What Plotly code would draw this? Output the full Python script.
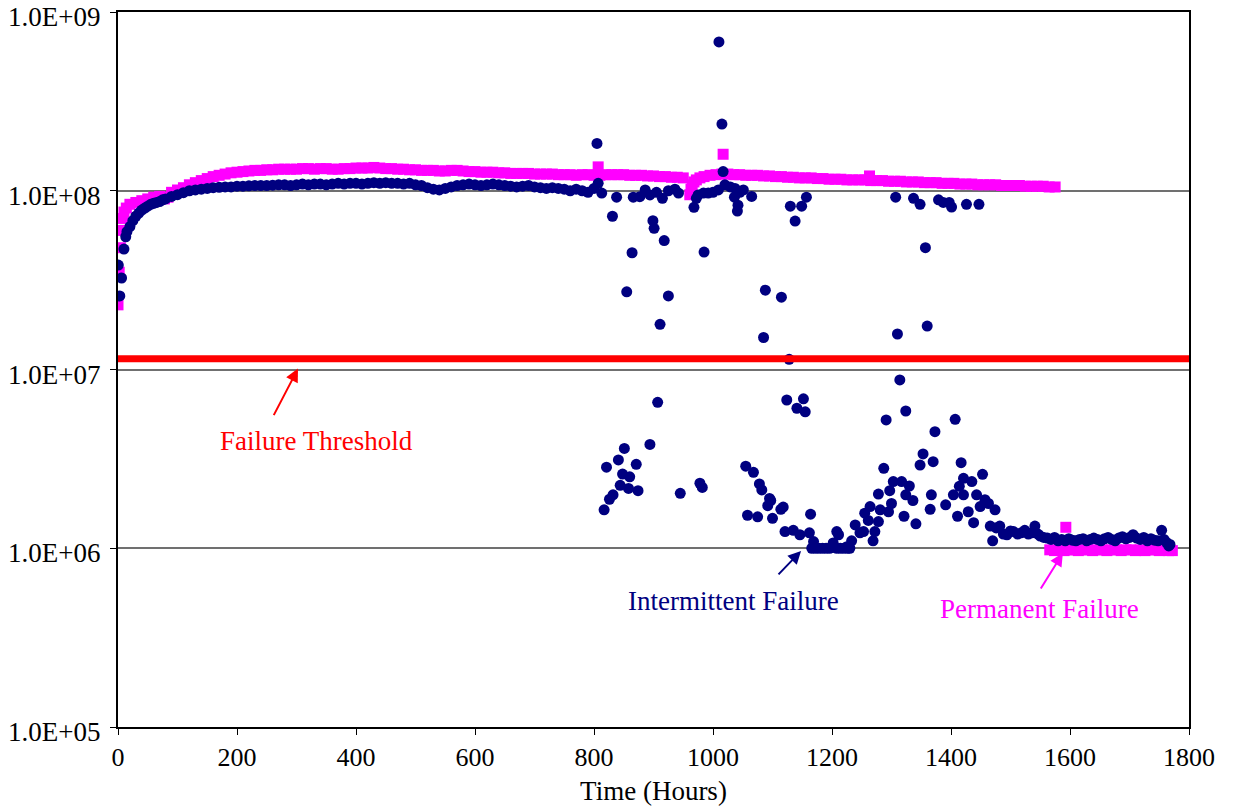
import math
import plotly.graph_objects as go

# ---------------- data ----------------
# Permanent-failure device (magenta squares)
mag_hours_a = [0, 2, 4, 6, 8, 10, 14, 20, 30, 40, 50, 60, 70, 78, 84, 90, 100, 110, 120, 130,
               140, 150, 160, 170, 180, 190, 200, 210, 220, 230, 240, 250, 260, 270, 280, 290,
               300, 310, 320, 330, 340, 350, 360, 370, 380, 390, 400, 410, 420, 430, 440, 450,
               460, 470, 480, 490, 500, 510, 520, 530, 540, 550, 560, 570, 580, 590, 600, 610,
               620, 630, 640, 650, 660, 670, 680, 690, 700, 710, 720, 730, 740, 750, 760, 770,
               780, 790, 800, 810, 820, 830, 840, 850, 860, 870, 880, 890, 900, 910, 920, 930,
               940, 950]
mag_values_a = [2.3e7, 3.5e7, 4.8e7, 6.0e7, 7.0e7, 7.6e7, 8.0e7, 8.4e7, 8.6e7, 8.8e7, 9.0e7, 9.2e7,
                9.3e7, 9.0e7, 9.2e7, 9.8e7, 1.01e8, 1.04e8, 1.08e8, 1.11e8, 1.14e8, 1.17e8, 1.20e8,
                1.22e8, 1.24e8, 1.26e8, 1.27e8, 1.28e8, 1.29e8, 1.30e8, 1.30e8, 1.31e8, 1.31e8,
                1.32e8, 1.32e8, 1.32e8, 1.32e8, 1.33e8, 1.33e8, 1.32e8, 1.33e8, 1.33e8, 1.32e8,
                1.32e8, 1.33e8, 1.33e8, 1.34e8, 1.34e8, 1.34e8, 1.35e8, 1.34e8, 1.33e8, 1.33e8,
                1.32e8, 1.32e8, 1.31e8, 1.31e8, 1.30e8, 1.30e8, 1.30e8, 1.29e8, 1.29e8, 1.30e8,
                1.30e8, 1.29e8, 1.28e8, 1.28e8, 1.27e8, 1.27e8, 1.27e8, 1.26e8, 1.26e8, 1.25e8,
                1.25e8, 1.25e8, 1.25e8, 1.24e8, 1.24e8, 1.24e8, 1.24e8, 1.23e8, 1.23e8, 1.23e8,
                1.22e8, 1.23e8, 1.23e8, 1.22e8, 1.22e8, 1.23e8, 1.23e8, 1.23e8, 1.23e8, 1.22e8,
                1.22e8, 1.22e8, 1.21e8, 1.21e8, 1.20e8, 1.20e8, 1.19e8, 1.19e8, 1.18e8]
mag_hours_b = [961, 963, 965, 968, 972, 978, 985, 995, 1005, 1015, 1025, 1035, 1045, 1055, 1065,
               1075, 1085, 1095, 1105, 1115, 1125, 1135, 1145, 1155, 1165, 1175, 1185, 1195,
               1205, 1215, 1225, 1235, 1245, 1255, 1265, 1275, 1285, 1295, 1305, 1315, 1325,
               1335, 1345, 1355, 1365, 1375, 1385, 1395, 1405, 1415, 1425, 1435, 1445, 1455,
               1465, 1475, 1485, 1495, 1505, 1515, 1525, 1535, 1545, 1555, 1565, 1575]
mag_values_b = [9.5e7, 1.02e8, 1.08e8, 1.12e8, 1.15e8, 1.18e8, 1.20e8, 1.22e8, 1.23e8, 1.24e8,
                1.24e8, 1.23e8, 1.23e8, 1.22e8, 1.22e8, 1.22e8, 1.21e8, 1.21e8, 1.20e8, 1.20e8,
                1.19e8, 1.19e8, 1.18e8, 1.18e8, 1.18e8, 1.17e8, 1.17e8, 1.16e8, 1.16e8, 1.16e8,
                1.15e8, 1.15e8, 1.15e8, 1.15e8, 1.14e8, 1.14e8, 1.14e8, 1.13e8, 1.13e8, 1.13e8,
                1.12e8, 1.12e8, 1.12e8, 1.11e8, 1.11e8, 1.11e8, 1.10e8, 1.10e8, 1.10e8, 1.09e8,
                1.09e8, 1.09e8, 1.08e8, 1.08e8, 1.08e8, 1.08e8, 1.07e8, 1.07e8, 1.07e8, 1.07e8,
                1.06e8, 1.06e8, 1.06e8, 1.06e8, 1.05e8, 1.05e8]
mag_hours_outliers = [807, 1017, 1263, 1593]
mag_values_outliers = [1.36e8, 1.60e8, 1.21e8, 1.31e6]
mag_hours_c = [1566, 1574, 1582, 1590, 1598, 1606, 1614, 1622, 1630, 1638, 1646, 1654, 1662,
               1670, 1678, 1686, 1694, 1702, 1710, 1718, 1726, 1734, 1742, 1750, 1758, 1766, 1772]
mag_values_c = [9.8e5, 9.7e5, 9.8e5, 9.7e5, 9.8e5, 9.8e5, 9.7e5, 9.8e5, 9.8e5, 9.7e5, 9.8e5,
                9.8e5, 9.7e5, 9.8e5, 9.8e5, 9.7e5, 9.8e5, 9.8e5, 9.7e5, 9.8e5, 9.7e5, 9.8e5,
                9.8e5, 9.7e5, 9.8e5, 9.7e5, 9.7e5]

# Intermittent-failure device (navy circles)
blue_hours_a = [0.5, 3, 6, 10, 13, 15, 20, 25, 30, 35, 40, 45, 50, 55, 60, 65, 70, 75, 80, 90, 100,
                110, 120, 130, 140, 150, 160, 170, 180, 190, 200, 210, 220, 230, 240, 250, 260,
                270, 280, 290, 300, 310, 320, 330, 340, 350, 360, 370, 380, 390, 400, 410, 420,
                430, 440, 450, 460, 470, 480, 490, 500, 510, 520, 530, 540, 550, 560, 570, 580,
                590, 600, 610, 620, 630, 640, 650, 660, 670, 680, 690, 700, 710, 720, 730, 740,
                750, 760, 770, 780, 790, 800]
blue_values_a = [3.84e7, 2.58e7, 3.25e7, 4.72e7, 5.53e7, 5.9e7, 6.3e7, 6.8e7, 7.2e7, 7.5e7, 7.8e7,
                 8.0e7, 8.2e7, 8.4e7, 8.5e7, 8.6e7, 8.7e7, 8.9e7, 9.0e7, 9.3e7, 9.5e7, 9.75e7,
                 1.0e8, 1.01e8, 1.02e8, 1.03e8, 1.04e8, 1.045e8, 1.05e8, 1.05e8, 1.06e8, 1.06e8,
                 1.065e8, 1.07e8, 1.07e8, 1.07e8, 1.075e8, 1.08e8, 1.08e8, 1.07e8, 1.08e8, 1.09e8,
                 1.08e8, 1.09e8, 1.09e8, 1.08e8, 1.09e8, 1.10e8, 1.09e8, 1.10e8, 1.10e8, 1.09e8,
                 1.10e8, 1.11e8, 1.10e8, 1.11e8, 1.10e8, 1.10e8, 1.09e8, 1.10e8, 1.08e8, 1.07e8,
                 1.04e8, 1.02e8, 1.01e8, 1.03e8, 1.05e8, 1.07e8, 1.08e8, 1.09e8, 1.08e8, 1.07e8,
                 1.08e8, 1.09e8, 1.08e8, 1.07e8, 1.06e8, 1.05e8, 1.06e8, 1.07e8, 1.05e8, 1.04e8,
                 1.03e8, 1.04e8, 1.03e8, 1.02e8, 1.00e8, 1.02e8, 1.00e8, 9.8e7, 1.03e8]
blue_hours_b = [805, 807, 813, 817, 821, 826, 831, 832, 838, 841, 844, 848, 851, 855, 858, 860,
                864, 866, 871, 874, 877, 886, 894, 894, 899, 901, 905, 907, 911, 915, 918, 925,
                925, 936, 942, 945, 968, 972, 975, 978, 982, 984, 985, 992, 1000, 1009, 1010,
                1015, 1017, 1020, 1029, 1036, 1037, 1041, 1042, 1045, 1051, 1055, 1058, 1065,
                1068, 1075, 1078, 1082, 1085, 1088, 1092, 1095, 1097, 1100, 1114, 1115, 1118,
                1121, 1124, 1128, 1130, 1135, 1138, 1141, 1146, 1149, 1152, 1155, 1157, 1162,
                1164, 1169]
blue_values_b = [1.84e8, 1.1e8, 9.7e7, 1.64e6, 2.84e6, 1.88e6, 7.2e7, 1.99e6, 9.2e7, 3.12e6,
                 2.25e6, 2.6e6, 3.62e6, 2.72e7, 2.16e6, 2.51e6, 4.5e7, 9.2e7, 2.95e6, 2.1e6,
                 9.26e7, 1.01e8, 9.47e7, 3.81e6, 6.8e7, 6.16e7, 9.8e7, 6.55e6, 1.79e7, 9.07e7,
                 5.26e7, 1.0e8, 2.58e7, 1.02e8, 9.7e7, 2.03e6, 8.08e7, 9.07e7, 9.47e7, 2.31e6,
                 2.19e6, 9.7e7, 4.54e7, 9.7e7, 9.8e7, 1.01e8, 6.8e8, 2.36e8, 1.28e8, 1.08e8,
                 1.05e8, 9.2e7, 1.03e8, 7.7e7, 8.3e7, 9.8e7, 1.01e8, 2.88e6, 1.53e6, 9.3e7,
                 2.66e6, 1.5e6, 2.29e6, 2.12e6, 1.51e7, 2.78e7, 1.73e6, 1.9e6, 1.85e6, 1.47e6,
                 1.65e6, 2.54e7, 1.7e6, 1.24e6, 6.75e6, 1.14e7, 8.2e7, 1.26e6, 6.77e7, 6.07e6,
                 1.19e6, 8.2e7, 6.85e6, 5.8e6, 9.2e7, 1.22e6, 1.55e6, 1.09e6]
blue_hours_c = [1166, 1172, 1178, 1184, 1190, 1196, 1202, 1208, 1208, 1211, 1214, 1220, 1225,
                1226, 1230, 1233, 1239, 1247, 1253, 1255, 1261, 1264, 1269, 1272, 1278, 1278,
                1281, 1287, 1291, 1295, 1297, 1300, 1303, 1307, 1310, 1314, 1317, 1321, 1324,
                1324, 1330, 1336, 1337, 1341, 1348, 1348, 1353, 1357, 1360, 1365, 1367, 1370,
                1373, 1379, 1387, 1391, 1397, 1401, 1404, 1407, 1411, 1414, 1417, 1421, 1421,
                1426, 1429, 1435, 1438, 1443, 1447, 1449, 1453, 1457, 1463, 1466, 1470, 1474]
blue_values_c = [1.0e6, 1.0e6, 1.0e6, 1.0e6, 1.0e6, 1.0e6, 1.07e6, 1.0e6, 1.24e6, 1.19e6, 1.0e6,
                 1.0e6, 1.02e6, 1.0e6, 1.0e6, 1.1e6, 1.35e6, 1.22e6, 1.24e6, 1.57e6, 1.43e6,
                 1.71e6, 1.1e6, 1.24e6, 1.41e6, 2.01e6, 1.64e6, 2.8e6, 5.22e6, 1.6e6, 2.1e6,
                 1.78e6, 2.36e6, 9.2e7, 1.58e7, 8.74e6, 2.36e6, 1.51e6, 1.99e6, 5.86e6, 2.23e6,
                 1.85e6, 9.07e7, 1.37e6, 8.4e7, 2.92e6, 3.37e6, 4.8e7, 1.75e7, 1.65e6, 1.99e6,
                 3.05e6, 4.49e6, 8.9e7, 8.6e7, 1.75e6, 8.6e7, 8.1e7, 1.99e6, 5.26e6, 1.51e6,
                 2.22e6, 3.01e6, 2.46e6, 1.99e6, 8.4e7, 1.6e6, 2.36e6, 1.39e6, 1.99e6, 8.4e7,
                 1.71e6, 2.59e6, 1.87e6, 1.78e6, 1.33e6, 1.1e6, 1.64e6]
blue_hours_d = [1476, 1482, 1488, 1494, 1500, 1505, 1512, 1518, 1524, 1530, 1536, 1541, 1546,
                1550, 1556, 1562, 1568, 1574, 1580, 1586, 1592, 1598, 1604, 1610, 1616, 1622,
                1628, 1634, 1640, 1646, 1652, 1658, 1664, 1670, 1676, 1682, 1688, 1694, 1700,
                1706, 1712, 1718, 1724, 1730, 1736, 1742, 1748, 1754, 1758, 1762, 1766, 1768]
blue_values_d = [1.3e6, 1.33e6, 1.2e6, 1.19e6, 1.25e6, 1.24e6, 1.2e6, 1.22e6, 1.26e6, 1.2e6,
                 1.22e6, 1.33e6, 1.2e6, 1.17e6, 1.15e6, 1.14e6, 1.12e6, 1.15e6, 1.1e6, 1.12e6,
                 1.1e6, 1.13e6, 1.11e6, 1.1e6, 1.12e6, 1.13e6, 1.1e6, 1.12e6, 1.14e6, 1.12e6,
                 1.1e6, 1.13e6, 1.15e6, 1.12e6, 1.1e6, 1.14e6, 1.16e6, 1.13e6, 1.15e6, 1.19e6,
                 1.14e6, 1.12e6, 1.15e6, 1.1e6, 1.13e6, 1.11e6, 1.1e6, 1.26e6, 1.12e6, 1.08e6,
                 1.03e6, 1.05e6]

threshold_hours = [0, 1800]
threshold_value = 1.15e7

y_tickvals = [1e5, 1e6, 1e7, 1e8, 1e9]
y_ticktext = ["1.0E+05", "1.0E+06", "1.0E+07", "1.0E+08", "1.0E+09"]
x_tickvals = [0, 200, 400, 600, 800, 1000, 1200, 1400, 1600, 1800]

# ---------------- figure ----------------
NAVY = "#000080"
MAGENTA = "#FF00FF"
RED = "#FF0000"
FONT = "Liberation Serif, Times New Roman, serif"

mag_x = mag_hours_a + mag_hours_b + mag_hours_outliers + mag_hours_c
mag_y = mag_values_a + mag_values_b + mag_values_outliers + mag_values_c
blue_x = blue_hours_a + blue_hours_b + blue_hours_c + blue_hours_d
blue_y = blue_values_a + blue_values_b + blue_values_c + blue_values_d

fig = go.Figure()
fig.add_trace(go.Scatter(x=mag_x, y=mag_y, mode="markers", name="Permanent Failure",
                         marker=dict(symbol="square", size=11, color=MAGENTA, line=dict(width=0))))
fig.add_trace(go.Scatter(x=blue_x, y=blue_y, mode="markers", name="Intermittent Failure",
                         marker=dict(symbol="circle", size=11, color=NAVY, line=dict(width=0))))
fig.add_trace(go.Scatter(x=threshold_hours, y=[threshold_value] * len(threshold_hours),
                         mode="lines", name="Failure Threshold",
                         line=dict(color=RED, width=7), cliponaxis=False))

fig.update_layout(
    width=1239, height=806, autosize=False,
    margin=dict(l=118, r=50, t=12, b=79),
    paper_bgcolor="white", plot_bgcolor="white",
    showlegend=False,
    font=dict(family=FONT, size=27, color="black"),
    xaxis=dict(range=[0, 1800], tickvals=x_tickvals, showgrid=False, zeroline=False,
               showline=True, linecolor="black", linewidth=1.5, mirror=True,
               ticks="outside", ticklen=6, tickcolor="black", tickwidth=1,
               tickfont=dict(family=FONT, size=26), automargin=False,
               ticklabeloverflow="allow",
               title=dict(text="Time (Hours)", font=dict(family=FONT, size=27), standoff=10)),
    yaxis=dict(type="log", range=[5, 9], tickvals=y_tickvals, showticklabels=False,
               showgrid=True, gridcolor="#707070", gridwidth=1.5, zeroline=False,
               showline=True, linecolor="black", linewidth=1.5, mirror=True,
               ticks="outside", ticklen=6, tickcolor="black", tickwidth=1,
               automargin=False),
)

# y tick labels (sit slightly below their tick, as in the original)
for val, txt in zip(y_tickvals, y_ticktext):
    fig.add_annotation(x=0, xref="paper", xanchor="right", xshift=-16,
                       y=math.log10(val), yref="y", yanchor="middle", yshift=-5,
                       text=txt, showarrow=False, font=dict(family=FONT, size=27, color="black"))

# text labels
fig.add_annotation(x=333, y=6.6, xref="x", yref="y", text="Failure Threshold", showarrow=False,
                   font=dict(family=FONT, size=27, color=RED))
fig.add_annotation(x=1034, y=5.705, xref="x", yref="y", text="Intermittent Failure", showarrow=False,
                   font=dict(family=FONT, size=27, color=NAVY))
fig.add_annotation(x=1548, y=5.66, xref="x", yref="y", text="Permanent Failure", showarrow=False,
                   font=dict(family=FONT, size=27, color=MAGENTA))
# arrows
fig.add_annotation(x=302.5, y=7.005, xref="x", yref="y", text="", showarrow=True,
                   ax=-25, ay=48, arrowhead=2, arrowsize=1.3, arrowwidth=2, arrowcolor=RED)
fig.add_annotation(x=1148, y=5.985, xref="x", yref="y", text="", showarrow=True,
                   ax=-24, ay=25, arrowhead=2, arrowsize=1.3, arrowwidth=2, arrowcolor=NAVY)
fig.add_annotation(x=1588, y=5.973, xref="x", yref="y", text="", showarrow=True,
                   ax=-23, ay=37, arrowhead=2, arrowsize=1.3, arrowwidth=2, arrowcolor=MAGENTA)

fig.write_html("out.html")
